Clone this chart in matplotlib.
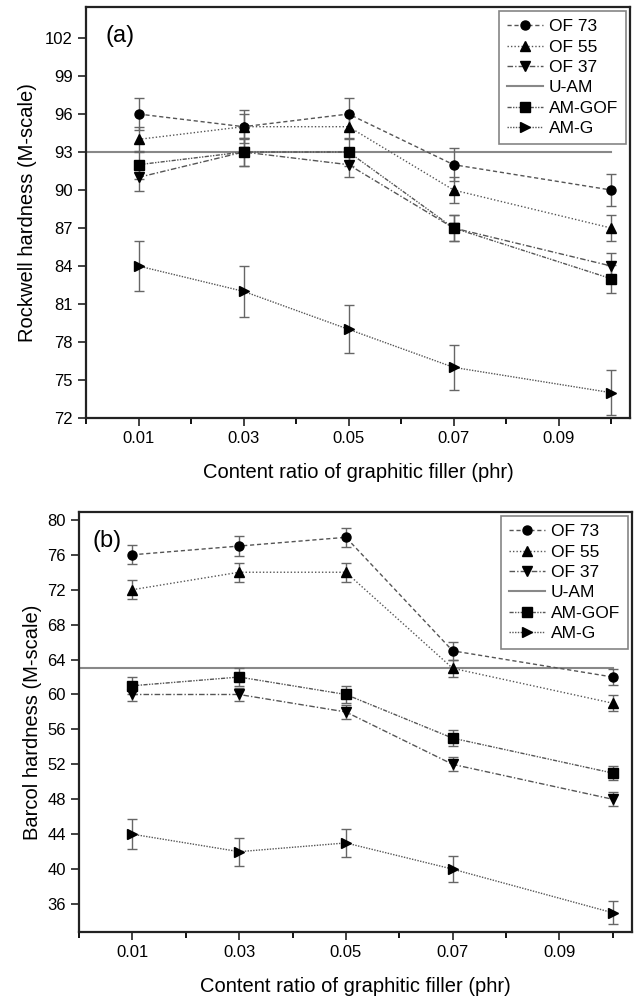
import numpy as np
import matplotlib.pyplot as plt

plt.rcParams['font.family'] = ['Liberation Sans', 'DejaVu Sans']

x = [0.01, 0.03, 0.05, 0.07, 0.10]
names = ['OF 73', 'OF 55', 'OF 37', 'AM-GOF', 'AM-G']
markers = ['o', '^', 'v', 's', '>']
styles = [(0, (3, 2)), (0, (1, 1.5)), (0, (4, 1.5, 1, 1.5)), (0, (3, 1, 1, 1, 1, 1)), (0, (1, 1))]

# (a) Rockwell hardness
rock_of73 = [96, 95, 96, 92, 90]
rock_of55 = [94, 95, 95, 90, 87]
rock_of37 = [91, 93, 92, 87, 84]
rock_gof = [92, 93, 93, 87, 83]
rock_g = [84, 82, 79, 76, 74]
rock_err = [
    [1.3, 1.3, 1.3, 1.3, 1.3],
    [1.0, 1.0, 1.0, 1.0, 1.0],
    [1.1, 1.1, 1.0, 1.0, 1.0],
    [1.1, 1.1, 1.1, 1.0, 1.1],
    [2.0, 2.0, 1.9, 1.8, 1.8],
]
rock_uam = 93

# (b) Barcol hardness
barc_of73 = [76, 77, 78, 65, 62]
barc_of55 = [72, 74, 74, 63, 59]
barc_of37 = [60, 60, 58, 52, 48]
barc_gof = [61, 62, 60, 55, 51]
barc_g = [44, 42, 43, 40, 35]
barc_err = [
    [1.1, 1.1, 1.1, 1.0, 0.9],
    [1.1, 1.1, 1.1, 1.0, 0.9],
    [0.8, 0.8, 0.8, 0.8, 0.8],
    [1.0, 1.0, 1.0, 0.9, 0.8],
    [1.7, 1.6, 1.6, 1.5, 1.3],
]
barc_uam = 63

fig = plt.figure(figsize=(6.37, 9.96), dpi=100)
W, H = 637, 996
ax1 = fig.add_axes([86 / W, 1 - 418 / H, 544 / W, 411 / H])
ax2 = fig.add_axes([79 / W, 1 - 932 / H, 553 / W, 420 / H])


def draw(ax, series, errs, uam, ylim, yticks, tag, tagpos):
    handles = []
    for i, (y, e) in enumerate(zip(series, errs)):
        ax.errorbar(x, y, yerr=e, fmt='none', ecolor='#666666', elinewidth=1,
                    capsize=3.5, capthick=1, zorder=2)
        h, = ax.plot(x, y, color='#555555', lw=1, linestyle=styles[i],
                     marker=markers[i], markersize=6.5, markerfacecolor='black',
                     markeredgecolor='black', label=names[i], zorder=3)
        handles.append(h)
    u, = ax.plot([0, 0.10], [uam, uam], color='#888888', lw=1.5, label='U-AM', zorder=1)
    order = [handles[0], handles[1], handles[2], u, handles[3], handles[4]]
    leg = ax.legend(handles=order, loc='upper right', fontsize=12.5, frameon=True,
                    fancybox=False, edgecolor='#666666', handlelength=2.1,
                    handletextpad=0.3, borderpad=0.45, labelspacing=0.3,
                    borderaxespad=0.25, bbox_to_anchor=(1.0, 1.0))
    leg.get_frame().set_linewidth(1.2)
    ax.set_xlim(0, 0.1036)
    ax.set_xticks([0.01, 0.03, 0.05, 0.07, 0.09])
    ax.set_xticklabels(['0.01', '0.03', '0.05', '0.07', '0.09'])
    ax.set_xticks([0.0, 0.02, 0.04, 0.06, 0.08, 0.10], minor=True)
    ax.set_ylim(*ylim)
    ax.set_yticks(yticks)
    ax.tick_params(axis='both', which='major', labelsize=12, length=6, width=1.3,
                   direction='out', color='#333333')
    ax.tick_params(axis='x', which='minor', length=4, width=1.3, direction='out')
    ax.tick_params(axis='y', which='minor', left=False)
    for s in ax.spines.values():
        s.set_linewidth(1.6)
        s.set_color('#222222')
    ax.set_xlabel('Content ratio of graphitic filler (phr)', fontsize=14.5, labelpad=12)
    ax.text(tagpos[0], tagpos[1], tag, transform=ax.transAxes, fontsize=17,
            va='center', ha='left')


draw(ax1, [rock_of73, rock_of55, rock_of37, rock_gof, rock_g], rock_err, rock_uam,
     (72, 104.45), np.arange(72, 103, 3), '(a)', (0.035, 0.93))
ax1.set_ylabel('Rockwell hardness (M-scale)', fontsize=14.5, labelpad=6)

draw(ax2, [barc_of73, barc_of55, barc_of37, barc_gof, barc_g], barc_err, barc_uam,
     (32.8, 80.9), np.arange(36, 81, 4), '(b)', (0.025, 0.93))
ax2.set_ylabel('Barcol hardness (M-scale)', fontsize=14.5, labelpad=4)

fig.savefig('out.png', dpi=100)
